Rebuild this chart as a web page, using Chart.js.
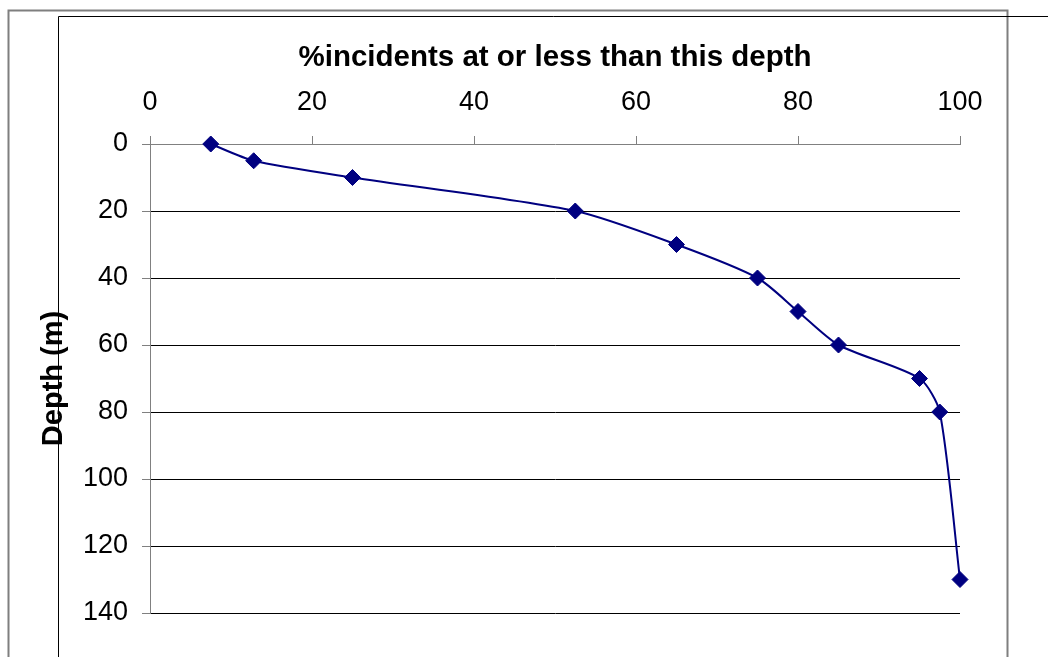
<!DOCTYPE html>
<html>
<head>
<meta charset="utf-8">
<script src="https://cdn.jsdelivr.net/npm/chart.js@4/dist/chart.umd.min.js"></script>
<style>
  html, body { margin: 0; padding: 0; background: #fff; }
  #wrap { width: 1048px; height: 657px; }
</style>
</head>
<body>
<div id="wrap"><canvas id="c" width="1048" height="657"></canvas></div>
<script>
// Data
const pctIncidents = [7.5, 12.8, 25, 52.5, 65, 75, 80, 85, 95, 97.5, 100];
const depths       = [0, 5, 10, 20, 30, 40, 50, 60, 70, 80, 130];
const xTitle = '%incidents at or less than this depth';
const yTitle = 'Depth (m)';

const FONT = '"Liberation Sans", Arial, Helvetica, sans-serif';
const NAVY = '#000080';

const points = pctIncidents.map((p, i) => ({ x: p, y: depths[i] }));

const framePlugin = {
  id: 'frame',
  beforeDraw(chart) {
    const ctx = chart.ctx;
    ctx.save();
    ctx.fillStyle = '#fff';
    ctx.fillRect(0, 0, chart.width, chart.height);
    // outer frame
    ctx.strokeStyle = '#7f7f7f';
    ctx.lineWidth = 2;
    ctx.beginPath();
    ctx.moveTo(8.5, 657); ctx.lineTo(8.5, 10.5); ctx.lineTo(1007.5, 10.5); ctx.lineTo(1007.5, 657);
    ctx.stroke();
    // inner frame
    ctx.strokeStyle = '#000';
    ctx.lineWidth = 1;
    ctx.beginPath();
    ctx.moveTo(58.5, 657); ctx.lineTo(58.5, 16.5); ctx.lineTo(1048, 16.5);
    ctx.stroke();
    ctx.restore();
  }
};

new Chart(document.getElementById('c'), {
  type: 'scatter',
  data: {
    datasets: [{
      data: points,
      showLine: true,
      clip: false,
      borderColor: NAVY,
      backgroundColor: NAVY,
      borderWidth: 2,
      tension: 0.25,
      pointStyle: 'rectRot',
      pointRadius: 8,
      pointBorderWidth: 1,
      pointBorderColor: NAVY,
      pointBackgroundColor: NAVY
    }]
  },
  options: {
    responsive: false,
    animation: false,
    devicePixelRatio: 1,
    layout: { padding: { left: 0, top: 0, right: 88, bottom: 44 } },
    plugins: { legend: { display: false }, tooltip: { enabled: false } },
    scales: {
      x: {
        type: 'linear',
        position: 'top',
        min: 0, max: 100,
        afterFit: s => { s.height = 144; },
        ticks: { stepSize: 20, padding: 17, color: '#000', font: { family: FONT, size: 27 } },
        grid: { drawOnChartArea: false, color: '#808080', tickLength: 8, lineWidth: 1 },
        border: { display: true, color: '#808080', width: 1 },
        title: {
          display: true, text: xTitle, color: '#000',
          font: { family: FONT, size: 29.5, weight: 'bold' },
          padding: { top: 40, bottom: 0 }
        }
      },
      y: {
        type: 'linear',
        reverse: true,
        min: 0, max: 140,
        afterFit: s => { s.width = 150; },
        ticks: { stepSize: 20, padding: 14, color: '#000', font: { family: FONT, size: 27 } },
        grid: {
          color: ctx => (ctx.tick && ctx.tick.value === 0) ? 'rgba(0,0,0,0)' : '#000',
          tickColor: '#808080',
          tickLength: 8,
          lineWidth: 1
        },
        border: { display: true, color: '#808080', width: 1 },
        title: {
          display: true, text: yTitle, color: '#000',
          font: { family: FONT, size: 29, weight: 'bold' },
          padding: { top: 37, bottom: 0 }
        }
      }
    }
  },
  plugins: [framePlugin]
});
</script>
</body>
</html>
